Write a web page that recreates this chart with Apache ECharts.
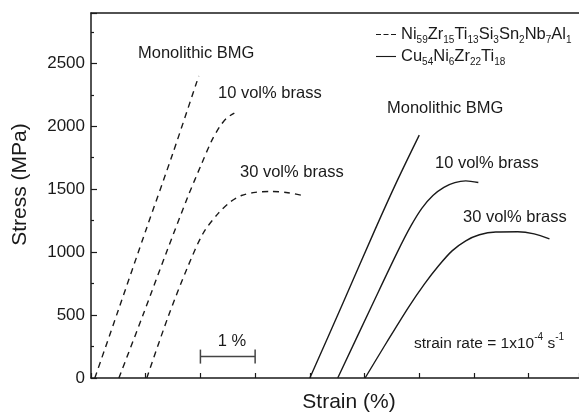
<!DOCTYPE html>
<html>
<head>
<meta charset="utf-8">
<script src="https://cdn.jsdelivr.net/npm/echarts@6/dist/echarts.min.js"></script>
<style>
  html, body { margin: 0; padding: 0; background: #fff; }
  #chart { width: 579px; height: 414px; }
</style>
</head>
<body>
<div id="chart"></div>
<script>
// series names (digits become subscripts in the legend)
var niName = 'Ni59Zr15Ti13Si3Sn2Nb7Al1';
var cuName = 'Cu54Ni6Zr22Ti18';

// [strain %, stress MPa]
var niMono = [[0.07, 0], [0.5, 540], [1.0, 1170], [1.5, 1790], [1.97, 2400]];
var ni10 = [[0.51, 0], [0.95, 500], [1.38, 1000], [1.77, 1440], [2.02, 1700], [2.2, 1880], [2.35, 1995], [2.48, 2065], [2.62, 2105]];
var ni30 = [[1.02, 0], [1.41, 487], [1.77, 885], [2.05, 1150], [2.33, 1310], [2.55, 1400], [2.75, 1450], [3.0, 1475], [3.3, 1482], [3.6, 1472], [3.87, 1450]];
var cuMono = [[4.0, 0], [4.6, 590], [5.19, 1177], [5.6, 1570], [6.0, 1930]];
var cu10 = [[4.51, 0], [5.15, 590], [5.6, 1000], [5.85, 1210], [6.05, 1350], [6.25, 1450], [6.45, 1515], [6.65, 1552], [6.85, 1566], [7.08, 1553]];
var cu30 = [[5.01, 0], [5.4, 280], [5.8, 560], [6.1, 750], [6.35, 890], [6.6, 1010], [6.85, 1090], [7.1, 1138], [7.4, 1160], [7.8, 1162], [8.1, 1145], [8.38, 1105]];

// 1 % scale bar
var scaleBar = [[2, 170], [3, 170]];

var labels = ['Monolithic BMG', '10 vol% brass', '30 vol% brass'];
var scaleLabel = '1 %';
var rateText = '{n|strain rate = 1x10}{p|-4}{n| s}{p|-1}';

var font = '"Liberation Sans", Arial, sans-serif';
var ink = '#1a1a1a';

function curve(name, data, dashed) {
	return {
		name: name,
		type: 'line',
		data: data,
		showSymbol: false,
		symbol: 'none',
		smooth: 0.3,
		lineStyle: { color: ink, width: 1.4, type: dashed ? [6, 5] : 'solid' },
		itemStyle: { color: ink }
	};
}

function note(text, x, y) {
	return {
		type: 'text', x: x, y: y,
		style: { text: text, fill: ink, font: '16.5px ' + font, verticalAlign: 'middle' }
	};
}

var chart = echarts.init(document.getElementById('chart'));
var option = {
	animation: false,
	backgroundColor: '#fff',
	grid: { left: 91, right: 0, top: 13, bottom: 36, outerBoundsMode: 'none' },
	legend: {
		data: [
			{ name: niName, icon: 'path://M0,0H5V1H0Z M7.5,0H12.5V1H7.5Z M15,0H20V1H15Z' },
			{ name: cuName, icon: 'path://M0,0H18V1H0Z' }
		],
		orient: 'vertical',
		left: 371,
		top: 19,
		itemWidth: 20,
		itemHeight: 1.5,
		itemGap: 1,
		selectedMode: false,
		formatter: function (name) {
			return name.replace(/(\d+)/g, '{s|$1}');
		},
		textStyle: {
			color: ink, fontSize: 16.5, fontFamily: font, lineHeight: 21,
			rich: { s: { fontSize: 10, fontFamily: font, color: ink, lineHeight: 12, verticalAlign: 'bottom' } }
		}
	},
	xAxis: [{
		type: 'value', min: 0, max: 8.92, interval: 1,
		name: 'Strain (%)', nameLocation: 'middle', nameGap: 14,
		nameTextStyle: { color: ink, fontSize: 21, fontFamily: font, padding: [0, 0, 0, 28] },
		axisLine: { lineStyle: { color: ink, width: 1.5 } },
		axisTick: { inside: true, length: 5, lineStyle: { color: ink, width: 1.2 } },
		axisLabel: { show: false },
		splitLine: { show: false }
	}, {
		type: 'value', min: 0, max: 8.92, position: 'top',
		axisLine: { show: true, onZero: false, lineStyle: { color: ink, width: 1.5 } },
		axisTick: { show: false },
		axisLabel: { show: false },
		splitLine: { show: false }
	}],
	yAxis: {
		type: 'value', min: 0, max: 2900, interval: 500,
		name: 'Stress (MPa)', nameLocation: 'middle', nameGap: 60,
		nameTextStyle: { color: ink, fontSize: 21, fontFamily: font, padding: [0, 0, 0, 22] },
		axisLine: { show: true, lineStyle: { color: ink, width: 1.5 } },
		axisTick: { inside: true, length: 6, lineStyle: { color: ink, width: 1.2 } },
		minorTick: { show: true, splitNumber: 2, length: 3, lineStyle: { color: ink, width: 1.2 } },
		axisLabel: {
			color: ink, fontSize: 17, fontFamily: font, margin: 6, showMaxLabel: false,
			formatter: function (v) { return String(v); }
		},
		splitLine: { show: false }
	},
	series: [
		curve(niName, niMono, true),
		curve(niName, ni10, true),
		curve(niName, ni30, true),
		curve(cuName, cuMono, false),
		curve(cuName, cu10, false),
		curve(cuName, cu30, false),
		{
			name: 'scale', type: 'line', data: scaleBar,
			symbol: 'rect', symbolSize: [1.5, 14], showSymbol: true,
			lineStyle: { color: '#444', width: 1.5 }, itemStyle: { color: '#444' }
		}
	],
	graphic: [
		note(labels[0], 138, 53),
		note(labels[1], 218, 93),
		note(labels[2], 240, 172),
		note(labels[0], 387, 108),
		note(labels[1], 435, 163),
		note(labels[2], 463, 217),
		{
			type: 'text', x: 232, y: 341,
			style: { text: scaleLabel, fill: ink, font: '16.5px ' + font, align: 'center', verticalAlign: 'middle' }
		},
		{
			type: 'text', x: 414, y: 342,
			style: {
				text: rateText, verticalAlign: 'middle',
				rich: {
					n: { fill: ink, font: '15.5px ' + font, lineHeight: 20, verticalAlign: 'bottom' },
					p: { fill: ink, font: '10px ' + font, lineHeight: 20, verticalAlign: 'top' }
				}
			}
		}
	]
};
chart.setOption(option);
</script>
</body>
</html>
